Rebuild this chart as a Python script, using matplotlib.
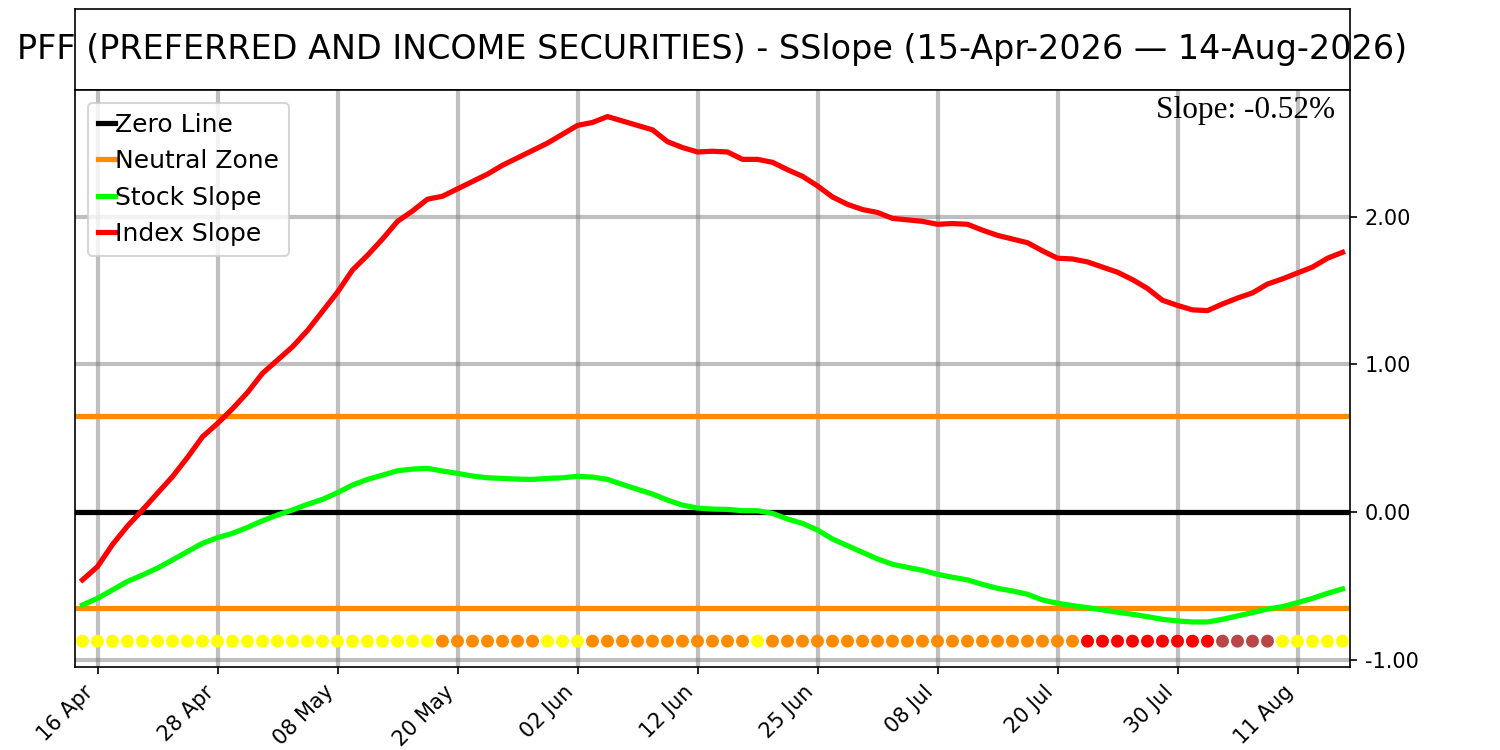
import numpy as np
import matplotlib
matplotlib.use('Agg')
import matplotlib.pyplot as plt

# trading days 15-Apr-2026 .. 14-Aug-2026 (index 0..84)
index_slope = [-0.46, -0.37, -0.22, -0.095, 0.014, 0.128, 0.24, 0.37, 0.51, 0.60,
               0.70, 0.81, 0.94, 1.03, 1.12, 1.23, 1.36, 1.49, 1.64, 1.74,
               1.85, 1.97, 2.04, 2.12, 2.14, 2.19, 2.24, 2.29, 2.35, 2.40,
               2.45, 2.50, 2.56, 2.62, 2.64, 2.68, 2.65, 2.62, 2.59, 2.51,
               2.47, 2.44, 2.445, 2.44, 2.39, 2.39, 2.37, 2.32, 2.275, 2.21,
               2.135, 2.085, 2.05, 2.03, 1.99, 1.98, 1.97, 1.95, 1.955, 1.95,
               1.91, 1.875, 1.85, 1.825, 1.77, 1.72, 1.715, 1.695, 1.66, 1.625,
               1.575, 1.515, 1.435, 1.40, 1.37, 1.365, 1.41, 1.45, 1.485, 1.545,
               1.58, 1.62, 1.66, 1.72, 1.76]

stock_slope = [-0.63, -0.585, -0.528, -0.47, -0.427, -0.38, -0.325, -0.268, -0.212, -0.174,
               -0.144, -0.104, -0.059, -0.02, 0.014, 0.052, 0.086, 0.131, 0.183, 0.221,
               0.25, 0.28, 0.291, 0.296, 0.278, 0.262, 0.244, 0.232, 0.228, 0.223,
               0.221, 0.228, 0.232, 0.242, 0.237, 0.221, 0.187, 0.154, 0.122, 0.081,
               0.047, 0.027, 0.02, 0.018, 0.009, 0.009, -0.009, -0.047, -0.077, -0.122,
               -0.183, -0.228, -0.273, -0.318, -0.354, -0.375, -0.395, -0.422, -0.442, -0.46,
               -0.49, -0.517, -0.535, -0.557, -0.596, -0.618, -0.634, -0.648, -0.663, -0.679,
               -0.693, -0.709, -0.727, -0.738, -0.745, -0.745, -0.727, -0.704, -0.682, -0.657,
               -0.641, -0.614, -0.585, -0.551, -0.521]

# Y = yellow, O = orange, R = red, B = brown
signal = list("YYYYYYYYYYYYYYYYYYYYYYYY" "OOOOOOO" "YYY" "OOOOOOOOOOO" "Y"
              "OOOOOOOOOOOOOOOOOOOOO" "RRRRRRRRR" "BBBB" "YYYYY")

tick_pos = [1, 9, 17, 25, 33, 41, 49, 57, 65, 73, 81]
tick_labels = ['16 Apr', '28 Apr', '08 May', '20 May', '02 Jun', '12 Jun',
               '25 Jun', '08 Jul', '20 Jul', '30 Jul', '11 Aug']

neutral = 0.65
slope_value = -0.52
title = 'PFF (PREFERRED AND INCOME SECURITIES) - SSlope (15-Apr-2026 \u2014 14-Aug-2026)'

colors = {'Y': 'yellow', 'O': 'darkorange', 'R': 'red', 'B': '#b84848'}

x = np.arange(len(index_slope))

fig = plt.figure(figsize=(10, 5), dpi=150)

# title box
tax = fig.add_axes([0.05, 0.88, 0.85, 0.108])
tax.set_xticks([])
tax.set_yticks([])
tax.text(0.5, 0.5, title, ha='center', va='center', fontsize=16, transform=tax.transAxes)

ax = fig.add_axes([0.05, 0.1107, 0.85, 0.7693])
ax.grid(True, color='gray', alpha=0.5, linewidth=2)
ax.set_axisbelow(True)

ax.axhline(0, color='black', linewidth=2.5, label='Zero Line')
ax.axhline(neutral, color='darkorange', linewidth=2.5, label='Neutral Zone')
ax.axhline(-neutral, color='darkorange', linewidth=2.5)
ax.plot(x, stock_slope, color='lime', linewidth=2.5, label='Stock Slope')
ax.plot(x, index_slope, color='red', linewidth=2.5, label='Index Slope')

ax.scatter(x, [-0.875] * len(x), c=[colors[s] for s in signal], s=27, zorder=5)

ax.set_xlim(-0.5, 84.5)
ax.set_ylim(-1.05, 2.86)
ax.set_xticks(tick_pos)
ax.set_xticklabels(tick_labels, rotation=45, ha='right')
ax.set_yticks([-1, 0, 1, 2])
ax.yaxis.tick_right()
ax.yaxis.set_major_formatter(matplotlib.ticker.FormatStrFormatter('%.2f'))

ax.text(0.988, 0.99, 'Slope: %.2f%%' % slope_value, transform=ax.transAxes,
        ha='right', va='top', fontsize=15, family='Liberation Serif')

ax.legend(loc='upper left', fontsize=12, handlelength=0.7, handletextpad=0.0)

fig.savefig('out.png')
